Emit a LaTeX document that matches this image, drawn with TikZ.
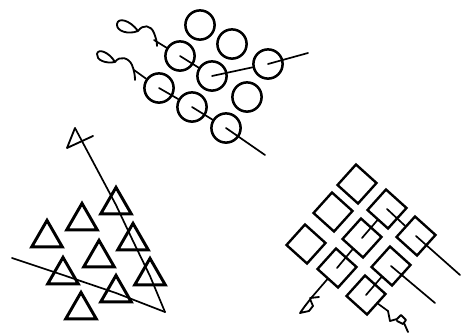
\documentclass[tikz,border=0pt]{standalone}
\usepackage{tikz}
\usetikzlibrary{shapes.geometric, calc}
\tikzset{
  bead/.style={circle, draw, inner sep=0pt, minimum size=0.73cm, line width=1.8pt},
  tribead/.style={regular polygon, regular polygon sides=3, draw, inner sep=0pt,
    minimum size=0.88cm, line width=2.1pt},
  boxbead/.style={rectangle, draw, inner sep=0pt, minimum size=0.69cm,
    rotate=-42, line width=1.7pt},
  strand/.style={line width=1.2pt, line cap=round},
  squiggle/.style={line width=1.3pt, line cap=round, line join=round}
}
\begin{document}
\begin{tikzpicture}[x=0.025cm, y=-0.025cm]
  \useasboundingbox (0,0) rectangle (465,335);
  % circles
  \foreach \n/\x/\y in {c1/200/25, c2/232/44, c3/180/56, c4/212/76, c5/268/64,
                        c6/159/88, c7/247/97, c8/192/107, c9/226/128}
    \node[bead] (\n) at (\x,\y) {};
  \coordinate (s1) at (154,40);
  \coordinate (s2) at (134,70);
  \coordinate (e1) at (308,53);
  \coordinate (e2) at (265,155);
  \draw[squiggle] (138,31) .. controls (128,35) and (116,31) .. (117,24)
    .. controls (118,17) and (130,20) .. (138,31)
    .. controls (143,24) and (151,25) .. (154,33)
    .. controls (156,38) and (157,42) .. (157,46);
  \draw[squiggle] (115,62) .. controls (106,64) and (96,60) .. (97,54)
    .. controls (98,48) and (109,52) .. (115,62)
    .. controls (120,55) and (129,58) .. (132,65)
    .. controls (134,70) and (135,75) .. (135,80);
  \draw[strand] (s1) -- (c3);
  \draw[strand] (c3.center) -- (c4);
  \draw[strand] (c4.center) -- (c5);
  \draw[strand] (c5.center) -- (e1);
  \draw[strand] (s2) -- (c6);
  \draw[strand] (c6.center) -- (c8);
  \draw[strand] (c8.center) -- (c9);
  \draw[strand] (c9.center) -- (e2);
  % triangles
  \foreach \n/\x/\y in {t1/116/205, t2/82/221, t3/47/238, t4/133/241, t5/99/258,
                        t6/63/275, t7/150/276, t8/116/293, t9/81/310}
    \node[tribead] (\n) at (\x,\y) {};
  \coordinate (m1) at (75,128);
  \coordinate (m2) at (12,258);
  \coordinate (tip) at (165,312);
  \draw[squiggle] (m1) -- (67,148) -- (93,136);
  \draw[strand] (m1) -- (t1.center) -- (t4.center) -- (t7.center) -- (tip);
  \draw[strand] (m2) -- (t6.center) -- (t8.center) -- (tip);
  % squares
  \foreach \n/\x/\y in {q1/357/184, q2/333/212, q3/387/209, q4/306/244, q5/362/238,
                        q6/416/236, q7/337/268, q8/391/266, q9/366/295}
    \node[boxbead] (\n) at (\x,\y) {};
  \coordinate (sq1) at (312,297);
  \coordinate (sq2) at (388,311);
  \coordinate (e3) at (460,275);
  \coordinate (e4) at (435,303);
  \draw[squiggle] (sq1) -- (305,306) -- (300,313) -- (309,311) -- (313,306) -- (310,299);
  \draw[squiggle] (310,298) -- (319,297);
  \draw[squiggle] (sq2) -- (390,321) -- (397,319) -- (401,315) -- (406,320)
    -- (403,324) -- (397,321);
  \draw[squiggle] (404,323) -- (408,332);
  \draw[strand] (sq1) -- (q7);
  \draw[strand] (q7.center) -- (q5);
  \draw[strand] (q5.center) -- (q3);
  \draw[strand] (q3.center) -- (q6);
  \draw[strand] (q6.center) -- (e3);
  \draw[strand] (sq2) -- (q9);
  \draw[strand] (q9.center) -- (q8);
  \draw[strand] (q8.center) -- (e4);
\end{tikzpicture}
\end{document}
